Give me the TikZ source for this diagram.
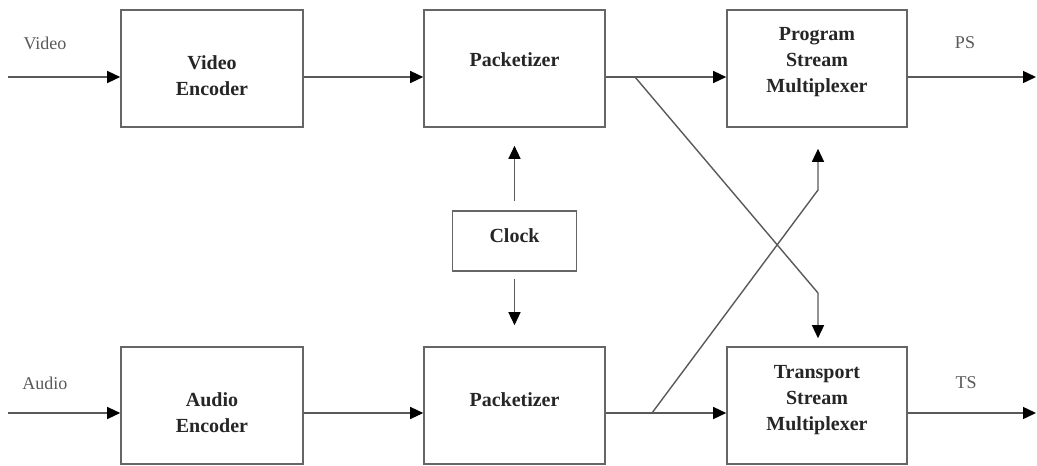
\documentclass[tikz,border=0pt]{standalone}
\usepackage{fontspec}
\setmainfont{Liberation Serif}
\usetikzlibrary{arrows.meta}
\begin{document}
\begin{tikzpicture}[x=1pt,y=-1pt,
  box/.style={draw=black!60, line width=1.6pt, fill=white, inner sep=0pt},
  boxtext/.style={align=center, font=\fontsize{20}{26}\selectfont\bfseries, text=black!85},
  sig/.style={font=\fontsize{18}{22}\selectfont, text=black!65},
  wire/.style={draw=black!65, line width=1.4pt},
  arr/.style={wire, -{Triangle[length=13pt,width=12pt,color=black,fill=black]}}]
\useasboundingbox (0,0) rectangle (1037,466);

% blocks
\node[box, minimum width=182pt, minimum height=117pt] (venc) at (212,68.5) {};
\node[box, minimum width=181pt, minimum height=117pt] (pk1)  at (514.5,68.5) {};
\node[box, minimum width=180pt, minimum height=117pt] (psm)  at (817,68.5) {};
\node[box, minimum width=124pt, minimum height=60pt]  (clock) at (514.5,241) {};
\node[box, minimum width=182pt, minimum height=117pt] (aenc) at (212,405.5) {};
\node[box, minimum width=181pt, minimum height=117pt] (pk2)  at (514.5,405.5) {};
\node[box, minimum width=180pt, minimum height=117pt] (tsm)  at (817,405.5) {};

% block captions
\node[boxtext] (venc-t)  at (212,76)   {Video\\Encoder};
\node[boxtext] (pk1-t)   at (514.5,60) {Packetizer};
\node[boxtext] (psm-t)   at (817,62)   {Program\\Stream\\Multiplexer};
\node[boxtext] (clock-t) at (514.5,236)  {Clock};
\node[boxtext] (aenc-t)  at (212,413)  {Audio\\Encoder};
\node[boxtext] (pk2-t)   at (514.5,400){Packetizer};
\node[boxtext] (tsm-t)   at (817,400)  {Transport\\Stream\\Multiplexer};

% signal names
\node[sig] (vlab) at (45,43)  {Video};
\node[sig] (plab) at (965,43) {PS};
\node[sig] (alab) at (45,383) {Audio};
\node[sig] (tlab) at (966,383) {TS};

% wire end points
\coordinate (vin)  at (8,77);
\coordinate (ain)  at (8,413);
\coordinate (vout) at (1036,77);
\coordinate (aout) at (1036,413);
\coordinate (s1)   at (635,77);
\coordinate (k1)   at (818,293);
\coordinate (s2)   at (652,413);
\coordinate (k2)   at (818,190);

% video path
\draw[arr] (vin) -- (vin -| venc.west);
\draw[arr] (venc.east |- vin) -- (pk1.west |- vin);
\draw[arr] (pk1.east |- vin) -- (psm.west |- vin);
\draw[arr] (psm.east |- vout) -- (vout);

% audio path
\draw[arr] (ain) -- (ain -| aenc.west);
\draw[arr] (aenc.east |- ain) -- (pk2.west |- ain);
\draw[arr] (pk2.east |- ain) -- (tsm.west |- ain);
\draw[arr] (tsm.east |- aout) -- (aout);

% clock distribution
\draw[arr, shorten <=9pt, shorten >=18pt] (clock.north) -- (pk1.south);
\draw[arr, shorten <=7pt, shorten >=21pt] (clock.south) -- (pk2.north);

% cross-over feeds
\draw[arr, shorten >=8pt] (s1) -- (k1) -- (k1 |- tsm.north);
\draw[arr, shorten >=21pt] (s2) -- (k2) -- (k2 |- psm.south);
\end{tikzpicture}
\end{document}
